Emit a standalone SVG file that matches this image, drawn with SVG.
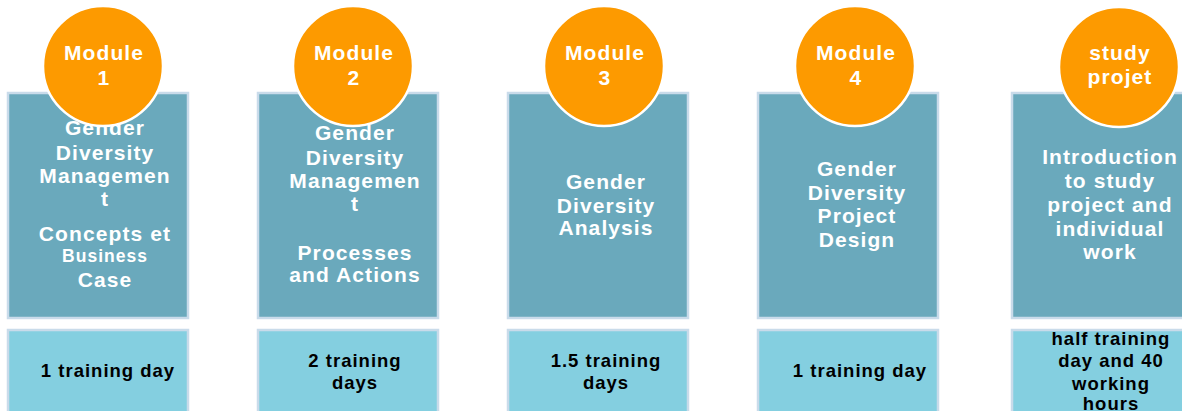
<svg xmlns="http://www.w3.org/2000/svg" width="1182" height="411" viewBox="0 0 1182 411">
<style>
.top{fill:#6aa9bc;stroke:#c9dbea;stroke-width:2.5}
.bot{fill:#84cfe0;stroke:#c9dbea;stroke-width:2.5}
.circ{fill:#fd9a00;stroke:#ffffff;stroke-width:2.5}
.t{font-family:"Liberation Sans",Arial,sans-serif;font-weight:bold;font-size:21px;letter-spacing:1.1px;fill:#ffffff;text-anchor:middle}
.s{font-size:17.5px;letter-spacing:1px}
.b{font-family:"Liberation Sans",Arial,sans-serif;font-weight:bold;font-size:18.5px;letter-spacing:1px;fill:#000000;text-anchor:middle}
</style>
<rect width="1182" height="411" fill="#ffffff"/>
<g id="connectors"/>
<g id="module1">
<rect class="top" x="8" y="93" width="180" height="225"/>
<text class="t" x="105" y="135">Gender</text>
<text class="t" x="105" y="160">Diversity</text>
<text class="t" x="105" y="183">Managemen</text>
<text class="t" x="105" y="206">t</text>
<text class="t" x="105" y="241">Concepts et</text>
<text class="t s" x="105" y="262">Business</text>
<text class="t" x="105" y="287">Case</text>
<circle class="circ" cx="103" cy="66" r="60"/>
<text class="t" x="104" y="60">Module</text>
<text class="t" x="104" y="85">1</text>
<rect class="bot" x="8" y="330" width="180" height="84"/>
<text class="b" x="108" y="377">1 training  day</text>
</g>
<g id="module2">
<rect class="top" x="258" y="93" width="180" height="225"/>
<text class="t" x="355" y="140">Gender</text>
<text class="t" x="355" y="165">Diversity</text>
<text class="t" x="355" y="188">Managemen</text>
<text class="t" x="355" y="211">t</text>
<text class="t" x="355" y="260">Processes</text>
<text class="t" x="355" y="282">and Actions</text>
<circle class="circ" cx="353" cy="66" r="60"/>
<text class="t" x="354" y="60">Module</text>
<text class="t" x="354" y="85">2</text>
<rect class="bot" x="258" y="330" width="180" height="84"/>
<text class="b" x="355" y="367">2 training</text>
<text class="b" x="355" y="389">days</text>
</g>
<g id="module3">
<rect class="top" x="508" y="93" width="180" height="225"/>
<text class="t" x="606" y="189">Gender</text>
<text class="t" x="606" y="213">Diversity</text>
<text class="t" x="606" y="235">Analysis</text>
<circle class="circ" cx="604" cy="66" r="60"/>
<text class="t" x="605" y="60">Module</text>
<text class="t" x="605" y="85">3</text>
<rect class="bot" x="508" y="330" width="180" height="84"/>
<text class="b" x="606" y="367">1.5 training</text>
<text class="b" x="606" y="389">days</text>
</g>
<g id="module4">
<rect class="top" x="758" y="93" width="180" height="225"/>
<text class="t" x="857" y="176">Gender</text>
<text class="t" x="857" y="200">Diversity</text>
<text class="t" x="857" y="223">Project</text>
<text class="t" x="857" y="247">Design</text>
<circle class="circ" cx="855" cy="66" r="60"/>
<text class="t" x="856" y="60">Module</text>
<text class="t" x="856" y="85">4</text>
<rect class="bot" x="758" y="330" width="180" height="84"/>
<text class="b" x="860" y="377">1 training  day</text>
</g>
<g id="study">
<rect class="top" x="1012" y="93" width="180" height="225"/>
<text class="t" x="1110" y="164">Introduction</text>
<text class="t" x="1110" y="188">to study</text>
<text class="t" x="1110" y="212">project and</text>
<text class="t" x="1110" y="236">individual</text>
<text class="t" x="1110" y="259">work</text>
<circle class="circ" cx="1119" cy="67" r="60"/>
<text class="t" x="1120" y="60">study</text>
<text class="t" x="1120" y="84">projet</text>
<rect class="bot" x="1012" y="330" width="180" height="84"/>
<text class="b" x="1111" y="345">half  training</text>
<text class="b" x="1111" y="367">day and  40</text>
<text class="b" x="1111" y="390">working</text>
<text class="b" x="1111" y="410">hours</text>
</g>
</svg>
